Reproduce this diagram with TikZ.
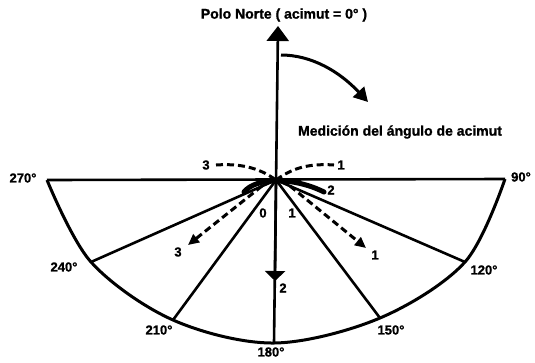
\documentclass[tikz,border=0pt]{standalone}
\usepackage{fontspec}
\setmainfont{Liberation Sans}
\newfontfamily\heavy[FakeBold=1.2]{Liberation Sans Bold}
\usetikzlibrary{arrows.meta}
\begin{document}
\begin{tikzpicture}[x=1pt,y=-1pt,
  lbl/.style={font=\heavy\fontsize{13}{13}\selectfont, inner sep=0pt},
  ttl/.style={font=\heavy\fontsize{14}{14}\selectfont, inner sep=0pt},
  ln/.style={line width=2.6pt},
  dsh/.style={line width=3pt, dash pattern=on 7pt off 4pt},
  tip/.style={-{Triangle[length=11pt,width=10pt]}}]
\useasboundingbox (0,0) rectangle (535,362);
% geometry
\coordinate (O) at (276,180);
\coordinate (p270) at (47,180);
\coordinate (p240) at (91,262);
\coordinate (p210) at (173,320);
\coordinate (p180) at (274,343);
\coordinate (p150) at (380,318);
\coordinate (p120) at (465,262);
\coordinate (p90) at (505,179);
\coordinate (N) at (278,26);
\coordinate (m) at (275,281);
\draw[ln] (p270) -- (p90);
\draw[ln, line width=3pt, line join=round] plot[smooth, tension=0.55] coordinates {(p270) (p240) (p210) (p180) (p150) (p120) (p90)};
\foreach \p in {p240,p210,p150,p120} \draw[ln] (O) -- (\p);
\draw[ln, -{Triangle[length=15pt,width=22pt]}] (p180) -- (N);
\draw[ln, -{Triangle[length=10pt,width=20pt]}] (O) -- (m);
% curved arrow
\coordinate (c1) at (281,55);
\coordinate (c2) at (368,102);
\draw[line width=3pt, -{Triangle[length=14pt,width=15pt]}] (c1) .. controls (312,55) and (340,72) .. (c2);
% thick arch at center
\coordinate (a1) at (244,192);
\coordinate (a2) at (324,192);
\draw[line width=5pt, line cap=round] (a1) .. controls (256,177) and (294,177) .. (a2);
% dashed paths
\coordinate (t3) at (216,165);
\coordinate (t1) at (334,165);
\draw[dsh] (t3) .. controls (245,163) and (262,170) .. (O);
\draw[dsh] (O) .. controls (290,170) and (305,163) .. (t1);
\coordinate (b3s) at (262,186);
\coordinate (b3) at (188,245);
\coordinate (b1s) at (290,186);
\coordinate (b1) at (366,248);
\draw[dsh, tip] (b3s) -- (b3);
\draw[dsh, tip] (b1s) -- (b1);
% labels
\node[ttl] (title) at (284,15) {Polo Norte ( acimut = 0° )};
\node[ttl] (med) at (400,132) {Medición del ángulo de acimut};
\node[lbl] (l270) at (23,178) {270°};
\node[lbl] (l90) at (521,177) {90°};
\node[lbl] (l240) at (64,267) {240°};
\node[lbl] (l120) at (484,270) {120°};
\node[lbl] (l210) at (159,330) {210°};
\node[lbl] (l150) at (391,330) {150°};
\node[lbl] (l180) at (271,352) {180°};
\node[lbl] (n3a) at (206,165) {3};
\node[lbl] (n1a) at (341,165) {1};
\node[lbl] (n2a) at (331,190) {2};
\node[lbl] (n0) at (263,213) {0};
\node[lbl] (n1b) at (292,213) {1};
\node[lbl] (n3b) at (178,252) {3};
\node[lbl] (n1c) at (375,255) {1};
\node[lbl] (n2b) at (283,288) {2};
\end{tikzpicture}
\end{document}
